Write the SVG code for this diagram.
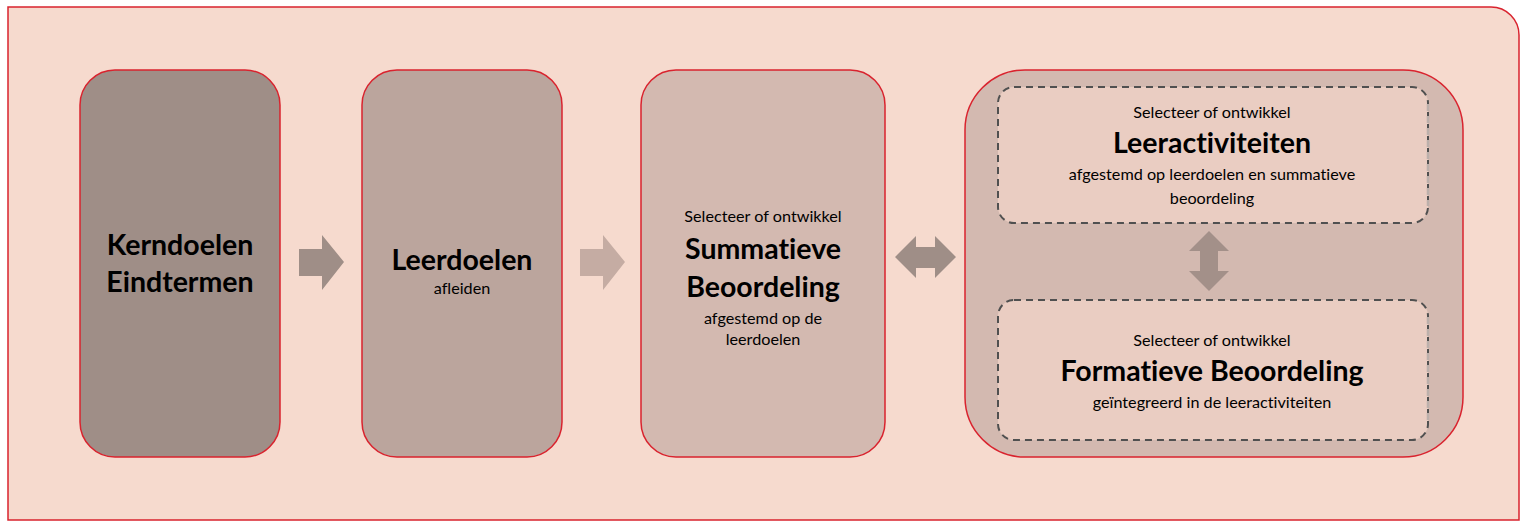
<svg xmlns="http://www.w3.org/2000/svg" width="1523" height="522" viewBox="0 0 1523 522">
<style>
.node{stroke:#d9232e;stroke-width:1.5}
.inner{fill:#eacdc2;stroke:#505050;stroke-width:2;stroke-dasharray:7,5}
.innerside{stroke:#bcb0ab;stroke-width:2.5;stroke-dasharray:7,5;fill:none}
text{font-family:Lato,"Open Sans","Liberation Sans",sans-serif;fill:#000;text-anchor:middle;font-variant-ligatures:none}
.big{font-size:28.5px;font-weight:bold}
.small{font-size:16.2px}
.arrow{fill:#9f8e87}
</style>
<rect width="1523" height="522" fill="#ffffff"/>
<g id="frame">
<path d="M8,7 H1491 A28,28 0 0 1 1519,35 V520 H8 Z" fill="#f6dace" stroke="#d9232e" stroke-width="1.5"/>
</g>
<g id="kerndoelen">
<rect class="node" x="80" y="70" width="200" height="387" rx="35" fill="#9f8e87"/>
<text class="big" x="180" y="255">Kerndoelen</text>
<text class="big" x="180" y="292">Eindtermen</text>
</g>
<g id="leerdoelen">
<rect class="node" x="362" y="70" width="200" height="387" rx="35" fill="#bba59d"/>
<text class="big" x="462" y="270">Leerdoelen</text>
<text class="small" x="462" y="294">afleiden</text>
</g>
<g id="summatieve">
<rect class="node" x="641" y="70" width="244" height="387" rx="35" fill="#d3b9b0"/>
<text class="small" x="763" y="222">Selecteer of ontwikkel</text>
<text class="big" x="763" y="259">Summatieve</text>
<text class="big" x="763" y="297">Beoordeling</text>
<text class="small" x="763" y="324">afgestemd op de</text>
<text class="small" x="763" y="345">leerdoelen</text>
</g>
<g id="activiteiten-groep">
<rect class="node" x="965" y="70" width="498" height="387" rx="60" fill="#d3b9b0"/>
</g>
<g id="leeractiviteiten">
<rect class="inner" x="998" y="87" width="430" height="136" rx="16"/>
<line class="innerside" x1="1428" y1="104" x2="1428" y2="206"/>
<text class="small" x="1212" y="118">Selecteer of ontwikkel</text>
<text class="big" x="1212" y="153">Leeractiviteiten</text>
<text class="small" x="1212" y="180">afgestemd op leerdoelen en summatieve</text>
<text class="small" x="1212" y="204">beoordeling</text>
</g>
<g id="formatieve">
<rect class="inner" x="998" y="300" width="430" height="140" rx="16"/>
<line class="innerside" x1="1428" y1="317" x2="1428" y2="423"/>
<text class="small" x="1212" y="346">Selecteer of ontwikkel</text>
<text class="big" x="1212" y="381">Formatieve Beoordeling</text>
<text class="small" x="1212" y="408">geïntegreerd in de leeractiviteiten</text>
</g>
<g id="connectors">
<polygon class="arrow" points="299,249 322,249 322,235 344,262 322,290 322,276 299,276"/>
<polygon points="580,249 603,249 603,235 625,262 603,290 603,276 580,276" fill="#c5aca3"/>
<polygon class="arrow" points="895,257 916,236 916,247 935,247 935,236 956,257 935,278 935,268 916,268 916,278"/>
<polygon fill="#a39089" points="1209,231 1229,251 1218,251 1218,271 1229,271 1209,291 1189,271 1200,271 1200,251 1189,251"/>
</g>
</svg>
